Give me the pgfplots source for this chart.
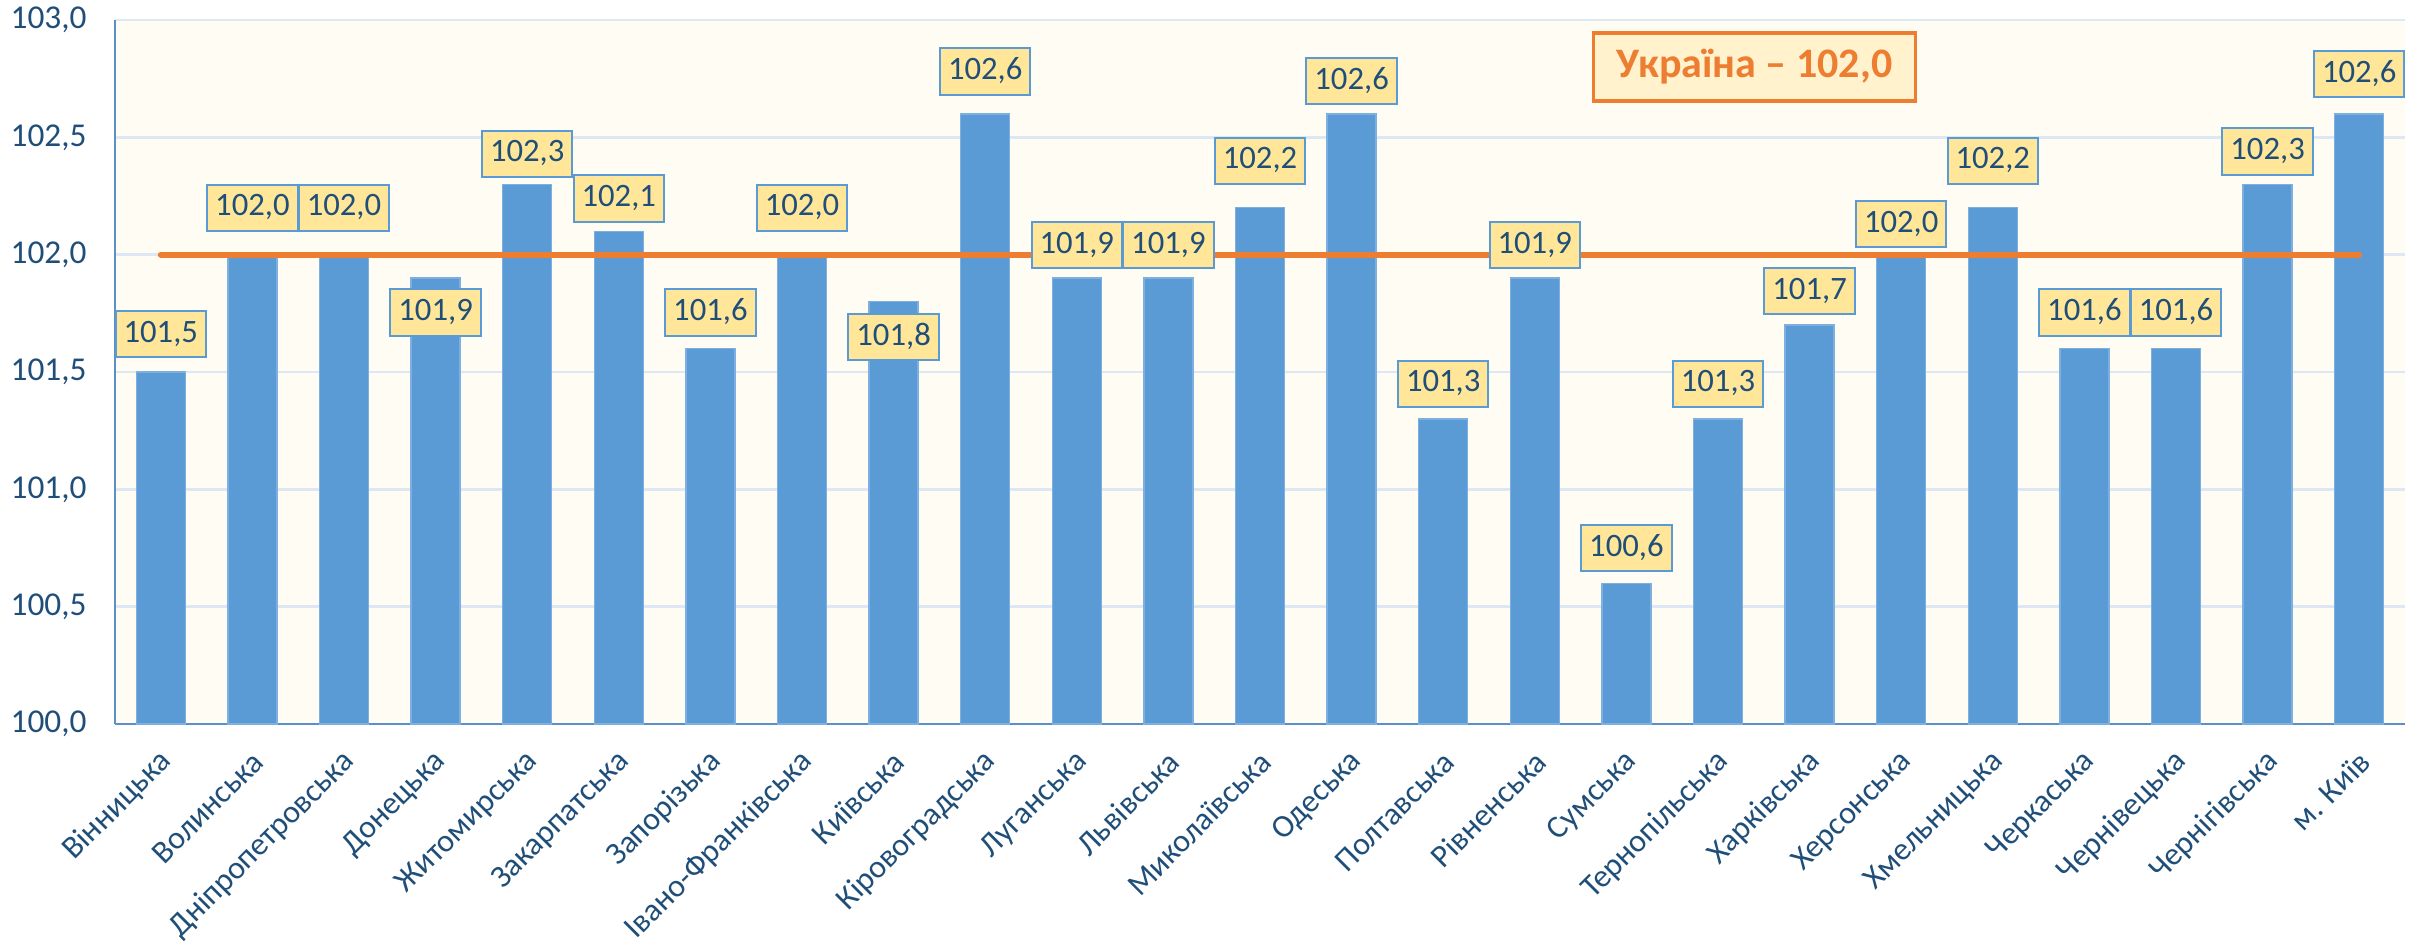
\documentclass[border=0pt]{standalone}
\usepackage{fontspec}
\setmainfont{Carlito}
\usepackage{pgfplots}
\pgfplotsset{compat=1.18}
\usepackage{pgfplotstable}
\definecolor{barblue}{HTML}{5B9BD5}
\definecolor{baredge}{HTML}{7DAFE0}
\definecolor{txtblue}{HTML}{1F4E79}
\definecolor{bgcream}{HTML}{FFFCF4}
\definecolor{gridblue}{HTML}{DDE8F4}
\definecolor{axblue}{HTML}{5B8FC9}
\definecolor{lineorange}{HTML}{ED7D31}
\definecolor{labfill}{HTML}{FFE699}
\definecolor{legfill}{HTML}{FFF2CC}

\pgfplotstableread{
x val ly lab
0 101.5 101.661 101,5
1 102.0 102.200 102,0
2 102.0 102.200 102,0
3 101.9 101.753 101,9
4 102.3 102.430 102,3
5 102.1 102.240 102,1
6 101.6 101.753 101,6
7 102.0 102.200 102,0
8 101.8 101.648 101,8
9 102.6 102.780 102,6
10 101.9 102.040 101,9
11 101.9 102.040 101,9
12 102.2 102.400 102,2
13 102.6 102.740 102,6
14 101.3 101.450 101,3
15 101.9 102.040 101,9
16 100.6 100.750 100,6
17 101.3 101.450 101,3
18 101.7 101.845 101,7
19 102.0 102.130 102,0
20 102.2 102.400 102,2
21 101.6 101.753 101,6
22 101.6 101.753 101,6
23 102.3 102.440 102,3
24 102.6 102.770 102,6
}\datatable

\pgfplotstableread{
x val
0 102.0
24 102.0
}\uatable

\begin{document}
\begin{tikzpicture}
\begin{axis}[
  width=687pt, height=211.2pt, scale only axis,
  xmin=-0.5, xmax=24.5, ymin=100, ymax=103,
  ytick={100,100.5,101,101.5,102,102.5,103},
  xtick={0,...,24},
  xticklabels={Вінницька,Волинська,Дніпропетровська,Донецька,Житомирська,Закарпатська,Запорізька,Івано-Франківська,Київська,Кіровоградська,Луганська,Львівська,Миколаївська,Одеська,Полтавська,Рівненська,Сумська,Тернопільська,Харківська,Херсонська,Хмельницька,Черкаська,Чернівецька,Чернігівська,м. Київ},
  major tick length=0pt,
  axis x line*=bottom, axis y line*=left,
  axis line style={draw=axblue, line width=0.8pt, -},
  ymajorgrids, grid style={draw=gridblue, line width=0.8pt},
  axis background/.style={fill=bgcream},
  /pgf/number format/assume math mode=true,
  yticklabel={\pgfmathprintnumber[fixed,fixed zerofill,precision=1,use comma]{\tick}},
  yticklabel style={font=\fontsize{10}{12}\selectfont, text=txtblue, xshift=-5pt},
  xticklabel style={font=\fontsize{9.6}{12}\selectfont, text=txtblue, rotate=45, anchor=east, yshift=-8.2pt, xshift=-2.3pt},
  clip=false,
]
\addplot[ybar, bar width=14.7pt, fill=barblue, draw=baredge, line width=0.4pt] table[x=x,y=val]{\datatable};
\addplot[lineorange, line width=1.8pt, line cap=round, mark=none] table[x=x,y=val]{\uatable};
\addplot[draw=none, mark=none, point meta=explicit symbolic,
  nodes near coords,
  every node near coord/.style={anchor=center, font=\fontsize{9.8}{11}\selectfont, text=txtblue, fill=labfill, draw=barblue, line width=0.6pt, inner xsep=2.4pt, inner ysep=3pt, text height=6.4pt, text depth=1.5pt}
  ] table[x=x,y=ly,meta=lab]{\datatable};
\node[fill=legfill, draw=lineorange, line width=1pt, text=lineorange, font=\bfseries\fontsize{12.6}{14}\selectfont, inner xsep=7pt, minimum height=20.4pt] at (axis cs:17.4,102.8) {Україна – 102,0};
\end{axis}
\pgfresetboundingbox
\path[use as bounding box] (-34.5pt,-66.3pt) rectangle (690.6pt,217.2pt);
\end{tikzpicture}
\end{document}
